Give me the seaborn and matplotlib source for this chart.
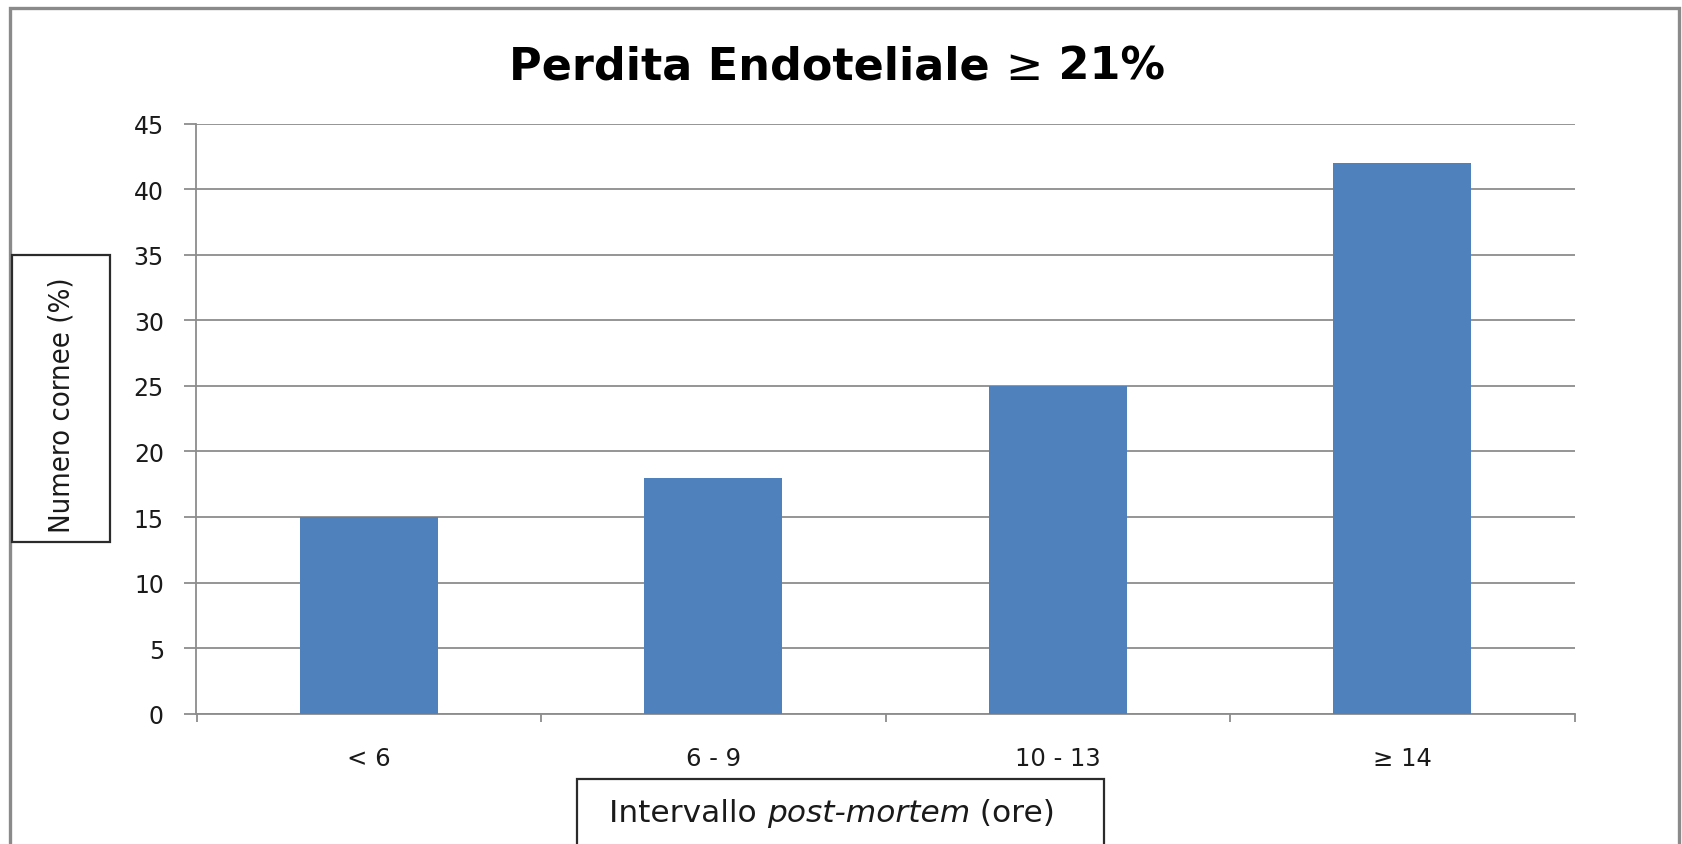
import matplotlib
matplotlib.use("Agg")
import matplotlib.pyplot as plt
import seaborn as sns
import pandas as pd
from matplotlib.patches import Rectangle

# ---- data ----
categories = ["< 6", "6 - 9", "10 - 13", "≥ 14"]
values = [15, 18, 25, 42]
y_ticks = [0, 5, 10, 15, 20, 25, 30, 35, 40, 45]
title_parts = ["Perdita Endoteliale ", "≥", " 21%"]
y_label = "Numero cornee (%)"
x_label_parts = ["Intervallo ", "post-mortem", " (ore)"]

sns.set_theme(style="white")
plt.rcParams["font.family"] = ["DejaVu Sans"]

W, H = 1683, 845
fig = plt.figure(figsize=(W / 100, H / 100), dpi=100)
fig.patch.set_facecolor("white")

def fx(px):
    return px / W

def fy(py):
    return 1 - py / H

ax = fig.add_axes([fx(196.5), fy(714.8), fx(1574.5 - 196.5), (714.8 - 124.5) / H])
df = pd.DataFrame({"cat": categories, "val": values})
sns.barplot(data=df, x="cat", y="val", color="#4f81bd", saturation=1, width=0.4,
            linewidth=0, ax=ax, zorder=3)
ax.set_xlim(-0.5, len(categories) - 0.5)
ax.set_ylim(0, 45)
ax.set_yticks(y_ticks)
ax.set_xlabel("")
ax.set_ylabel("")
ax.set_facecolor("white")

grid_c = "#8c8c8c"
ax.yaxis.grid(True, color=grid_c, lw=1.3, zorder=0)
ax.xaxis.grid(False)
ax.set_axisbelow(True)
for s in ["top", "right"]:
    ax.spines[s].set_visible(False)
for s in ["left", "bottom"]:
    ax.spines[s].set_color(grid_c)
    ax.spines[s].set_linewidth(1.3)

ax.tick_params(axis="y", which="major", direction="out", length=8.4, width=1.3,
               color=grid_c, pad=15, labelsize=17, labelcolor="#1a1a1a", left=True)
ax.set_xticks([i - 0.5 for i in range(len(categories) + 1)], minor=True)
ax.tick_params(axis="x", which="minor", direction="out", length=6, width=1.3,
               color=grid_c, bottom=True)
ax.tick_params(axis="x", which="major", length=0, pad=23, labelsize=17.5,
               labelcolor="#1a1a1a")

# outer chart frame
fig.add_artist(Rectangle((fx(10), fy(900)), fx(1679 - 10), (900 - 9) / H,
                         transform=fig.transFigure, fill=False,
                         edgecolor="#8a8a8a", lw=2.4, zorder=10))

# y label box
fig.add_artist(Rectangle((fx(12), fy(543)), fx(110 - 12), (543 - 256) / H,
                         transform=fig.transFigure, fill=False,
                         edgecolor="#2b2b2b", lw=1.6, zorder=10))
fig.text(fx(62), fy(405), y_label, rotation=90, ha="center", va="center",
         fontsize=21, fontstretch="condensed", family=["DejaVu Sans"], color="#1a1a1a")

# x label box
fig.add_artist(Rectangle((fx(577), fy(900)), fx(1104 - 577), (900 - 780) / H,
                         transform=fig.transFigure, fill=False,
                         edgecolor="#2b2b2b", lw=1.6, zorder=10))

fig.canvas.draw()
renderer = fig.canvas.get_renderer()

def place_parts(parts, styles, center_x, baseline_y):
    texts = []
    for p, st in zip(parts, styles):
        t = fig.text(0, fy(baseline_y), p, va="baseline", ha="left", **st)
        texts.append(t)
    widths = [t.get_window_extent(renderer).width for t in texts]
    total = sum(widths)
    x = center_x - total / 2
    for t, w in zip(texts, widths):
        t.set_x(fx(x))
        x += w

place_parts(title_parts,
            [dict(fontsize=32, fontweight="bold", family=["DejaVu Sans"], color="black"),
             dict(fontsize=32, fontweight="normal", family=["DejaVu Sans"], color="black"),
             dict(fontsize=32, fontweight="bold", family=["DejaVu Sans"], color="black")],
            837, 80)

place_parts(x_label_parts,
            [dict(fontsize=22.5, family=["DejaVu Sans"], color="#1a1a1a"),
             dict(fontsize=22.5, style="italic", family=["DejaVu Sans"], color="#1a1a1a"),
             dict(fontsize=22.5, family=["DejaVu Sans"], color="#1a1a1a")],
            832, 822)

fig.savefig("out.png", dpi=100, facecolor="white")
